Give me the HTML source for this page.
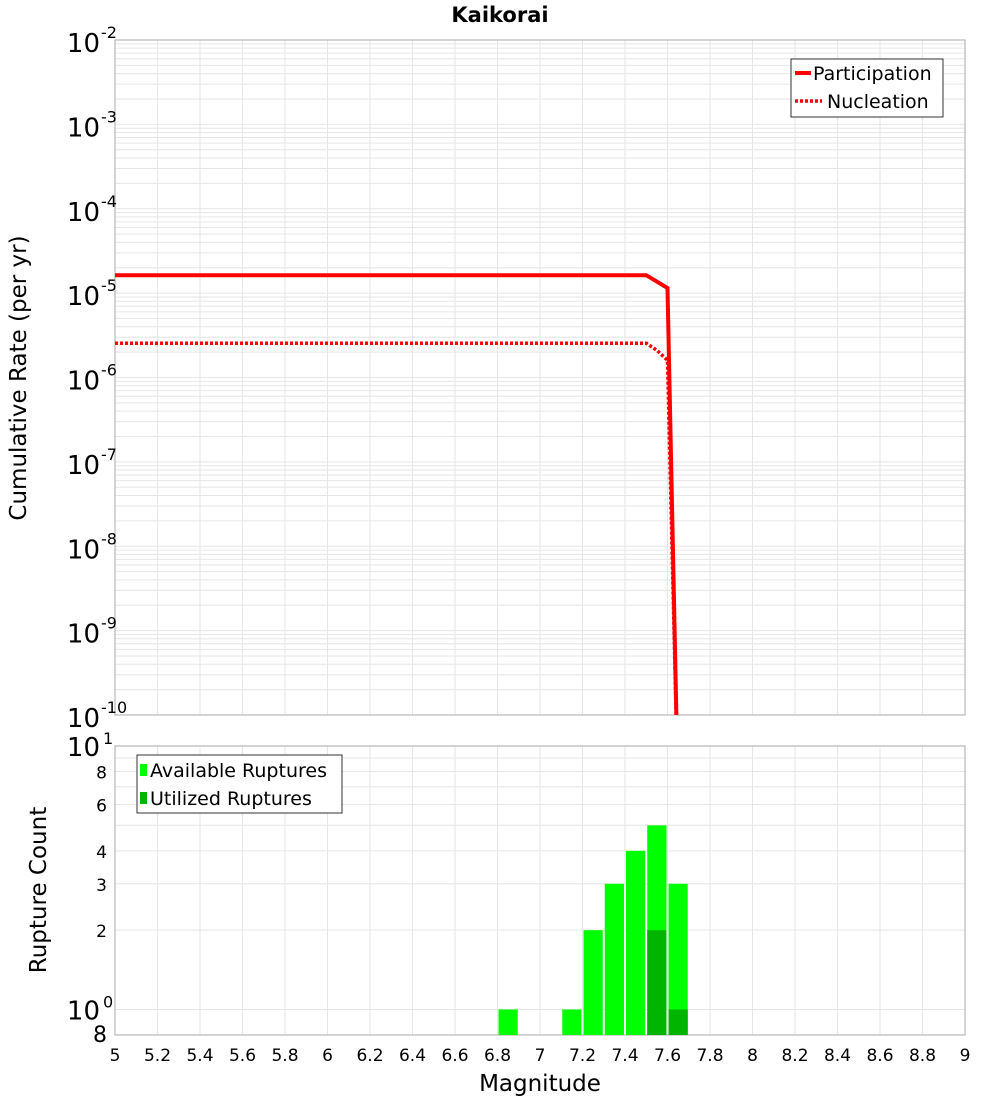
<!DOCTYPE html>
<html><head><meta charset="utf-8"><style>
body{margin:0;background:#fff;font-family:"Liberation Sans","DejaVu Sans",sans-serif}
</style></head><body>
<svg id="c" width="1000" height="1100" xmlns="http://www.w3.org/2000/svg" font-family="DejaVu Sans, Liberation Sans, sans-serif"></svg>
<script>
const magX=[5,7.5,7.6,7.65];
const partY=[1.63e-5,1.63e-5,1.15e-5,1e-11];
const nuclX=[5,7.5,7.55,7.6,7.65];
const nuclY=[2.55e-6,2.55e-6,2.1e-6,1.6e-6,1e-11];
const binCenters=[6.85,7.15,7.25,7.35,7.45,7.55,7.65];
const availCounts=[1,1,2,3,4,5,3];
const usedBins=[7.55,7.65];
const usedCounts=[2,1];
const xTicks=[5,5.2,5.4,5.6,5.8,6,6.2,6.4,6.6,6.8,7,7.2,7.4,7.6,7.8,8,8.2,8.4,8.6,8.8,9];
const topExp=[-2,-3,-4,-5,-6,-7,-8,-9,-10];
const botTicks=[8,6,4,3,2];

const svg=document.getElementById('c');
const NS='http://www.w3.org/2000/svg';
function mk(t,a,p){const e=document.createElementNS(NS,t);for(const k in a)e.setAttribute(k,a[k]);(p||svg).appendChild(e);return e;}
const L=115,R=965,T1=40,B1=715,T2=746,B2=1035;
const X=m=>L+(m-5)/4*(R-L);
const Y1=v=>T1+(-2-Math.log10(v))/8*(B1-T1);
const lo=Math.log10(0.8);
const Y2=v=>T2+(1-Math.log10(v))/(1-lo)*(B2-T2);

// grids
const g=mk('g',{stroke:'#e6e6e6','stroke-width':1});

xTicks.forEach(m=>{mk('line',{x1:X(m),x2:X(m),y1:T1,y2:B1},g);mk('line',{x1:X(m),x2:X(m),y1:T2,y2:B2},g);});
for(let e=-10;e<-2;e++)for(let k=1;k<10;k++){const y=Y1(k*Math.pow(10,e));mk('line',{x1:L,x2:R,y1:y,y2:y},g);}
[1,2,3,4,5,6,7,8,9,10].forEach(v=>{const y=Y2(v);mk('line',{x1:L,x2:R,y1:y,y2:y},g);});

// frames
let f=mk('rect',{x:L,y:T1,width:R-L,height:B1-T1,fill:'none',stroke:'#aaa'});

f=mk('rect',{x:L,y:T2,width:R-L,height:B2-T2,fill:'none',stroke:'#aaa'});


// title
let t=mk('text',{x:500,y:22,'text-anchor':'middle','font-size':21,'font-weight':'bold'});t.textContent='Kaikorai';


// lines
const clip=mk('clipPath',{id:'cp'});mk('rect',{x:L,y:T1,width:R-L,height:B1-T1},clip);
let p=mk('polyline',{points:magX.map((m,i)=>X(m)+','+Y1(partY[i])).join(' '),fill:'none',stroke:'#f00','stroke-width':4,'clip-path':'url(#cp)'});

p=mk('polyline',{points:nuclX.map((m,i)=>X(m)+','+Y1(nuclY[i])).join(' '),fill:'none',stroke:'#f00','stroke-width':3.5,'stroke-dasharray':'3,2','clip-path':'url(#cp)'});


// top y labels
topExp.forEach(e=>{const y=Y1(Math.pow(10,e));
 const tx=mk('text',{x:e===-10?100:100,y:y+12,'text-anchor':'end','font-size':26});
 tx.textContent='10';
 const s=mk('text',{x:101,y:y-2,'font-size':16});s.textContent=String(e);
 });
t=mk('text',{x:26,y:378,'text-anchor':'middle','font-size':23,transform:'rotate(-90 26 378)'});t.textContent='Cumulative Rate (per yr)';


// legend top
const lg=mk('g',{});
mk('rect',{x:791,y:59,width:152,height:58,fill:'#fff',stroke:'#333'},lg);
mk('line',{x1:795,x2:811,y1:73,y2:73,stroke:'#f00','stroke-width':4},lg);
mk('line',{x1:795,x2:822,y1:101,y2:101,stroke:'#f00','stroke-width':3.5,'stroke-dasharray':'3,2'},lg);
t=mk('text',{x:813,y:80,'font-size':19},lg);t.textContent='Participation';
t=mk('text',{x:827,y:108,'font-size':19},lg);t.textContent='Nucleation';

// bars
const bw=X(5.1)-X(5);
binCenters.forEach((m,i)=>{const y=Y2(availCounts[i]);
 const r=mk('rect',{x:X(m)-bw/2+1,y:y,width:bw-2,height:B2-y,fill:'#00ff00'});
 });
usedBins.forEach((m,i)=>{const y=Y2(usedCounts[i]);
 const r=mk('rect',{x:X(m)-bw/2+1,y:y,width:bw-2,height:B2-y,fill:'#00b400'});
 });

// bottom y labels
botTicks.forEach(v=>{const tx=mk('text',{x:107,y:Y2(v)+7,'text-anchor':'end','font-size':17});tx.textContent=String(v);
 });
[[1,Y2(10)],[0,Y2(1)]].forEach(([e,y])=>{const tx=mk('text',{x:100,y:y+10,'text-anchor':'end','font-size':26});tx.textContent='10';
 
 const s=mk('text',{x:103,y:y-2,'font-size':16});s.textContent=String(e);
 });
t=mk('text',{x:107,y:B2+7,'text-anchor':'end','font-size':22});t.textContent='8';

t=mk('text',{x:46,y:890,'text-anchor':'middle','font-size':23,transform:'rotate(-90 46 890)'});t.textContent='Rupture Count';


// legend bottom
const lg2=mk('g',{});
mk('rect',{x:137,y:755,width:205,height:58,fill:'#fff',stroke:'#333'},lg2);
mk('rect',{x:140,y:764,width:7,height:12,fill:'#00ff00'},lg2);
mk('rect',{x:140,y:792,width:7,height:12,fill:'#00b400'},lg2);
t=mk('text',{x:150,y:777,'font-size':19},lg2);t.textContent='Available Ruptures';
t=mk('text',{x:150,y:805,'font-size':19},lg2);t.textContent='Utilized Ruptures';

// x ticks
xTicks.forEach(m=>{const tx=mk('text',{x:X(m),y:1061,'text-anchor':'middle','font-size':17});tx.textContent=String(m);
 });
t=mk('text',{x:540,y:1091,'text-anchor':'middle','font-size':23});t.textContent='Magnitude';

</script>
</body></html>
